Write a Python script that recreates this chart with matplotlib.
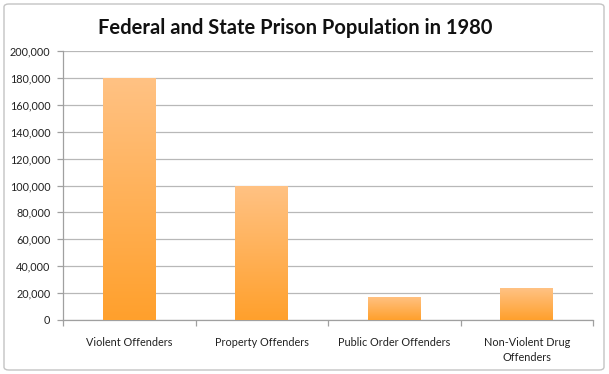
import numpy as np
import matplotlib
matplotlib.use("Agg")
import matplotlib.pyplot as plt
from matplotlib.colors import LinearSegmentedColormap
from matplotlib.patches import FancyBboxPatch
from matplotlib.ticker import FuncFormatter, FixedLocator

categories = ["Violent Offenders", "Property Offenders", "Public Order Offenders",
              "Non-Violent Drug\nOffenders"]
values = [180000, 100000, 17400, 23600]
title = "Federal and State Prison Population in 1980"

plt.rcParams['font.family'] = ['Lato', 'DejaVu Sans']

fig = plt.figure(figsize=(6.09, 3.74), dpi=100)
fig.patch.set_facecolor("white")
border = FancyBboxPatch((4/609, 4/374), 600/609, 366/374,
                        boxstyle="round,pad=0,rounding_size=0.008",
                        transform=fig.transFigure, facecolor="white",
                        edgecolor="#c4c4c4", linewidth=1.0, zorder=-5)
fig.patches.append(border)

ax = fig.add_axes([63/609, 1-320/374, (593-63)/609, (320-51)/374])
ax.set_facecolor("none")
ax.set_zorder(2)

x = np.arange(len(categories))
bars = ax.bar(x, values, width=0.40, color="none", edgecolor="none", zorder=3)

cmap = LinearSegmentedColormap.from_list("og", ["#ffa02c", "#ffc284"])
grad = np.linspace(0, 1, 256).reshape(-1, 1)
for b in bars:
    x0, y0 = b.get_x(), b.get_y()
    w, h = b.get_width(), b.get_height()
    im = ax.imshow(grad, extent=[x0, x0 + w, y0, y0 + h], origin="lower",
                   aspect="auto", cmap=cmap, zorder=3)
    im.set_clip_path(b)

ax.set_xlim(-0.5, len(categories) - 0.5)
ax.set_ylim(0, 200000)
ax.set_yticks(np.arange(0, 200001, 20000))
ax.yaxis.set_major_formatter(FuncFormatter(lambda v, p: f"{int(v):,}"))
ax.grid(axis="y", color="#b8b8b8", linewidth=0.9, zorder=0)
ax.set_axisbelow(True)

ax.set_xticks(x)
ax.set_xticklabels(categories, fontsize=7.8, color="#222222", linespacing=1.5)
ax.xaxis.set_minor_locator(FixedLocator(np.arange(-0.5, len(categories), 1.0)))
ax.tick_params(axis="x", which="major", length=0, pad=12)
ax.tick_params(axis="x", which="minor", length=4, color="#a0a0a0", width=0.9)
ax.tick_params(axis="y", length=4, color="#a0a0a0", width=0.9, labelsize=7.8,
               labelcolor="#222222", pad=5)

for s in ["top", "right"]:
    ax.spines[s].set_visible(False)
for s in ["left", "bottom"]:
    ax.spines[s].set_color("#a0a0a0")
    ax.spines[s].set_linewidth(0.9)

fig.text(0.485, 1 - 28/374, title, ha="center", va="center",
         fontsize=14.5, fontweight="bold", color="#111111")

fig.savefig("out.png", dpi=100)
